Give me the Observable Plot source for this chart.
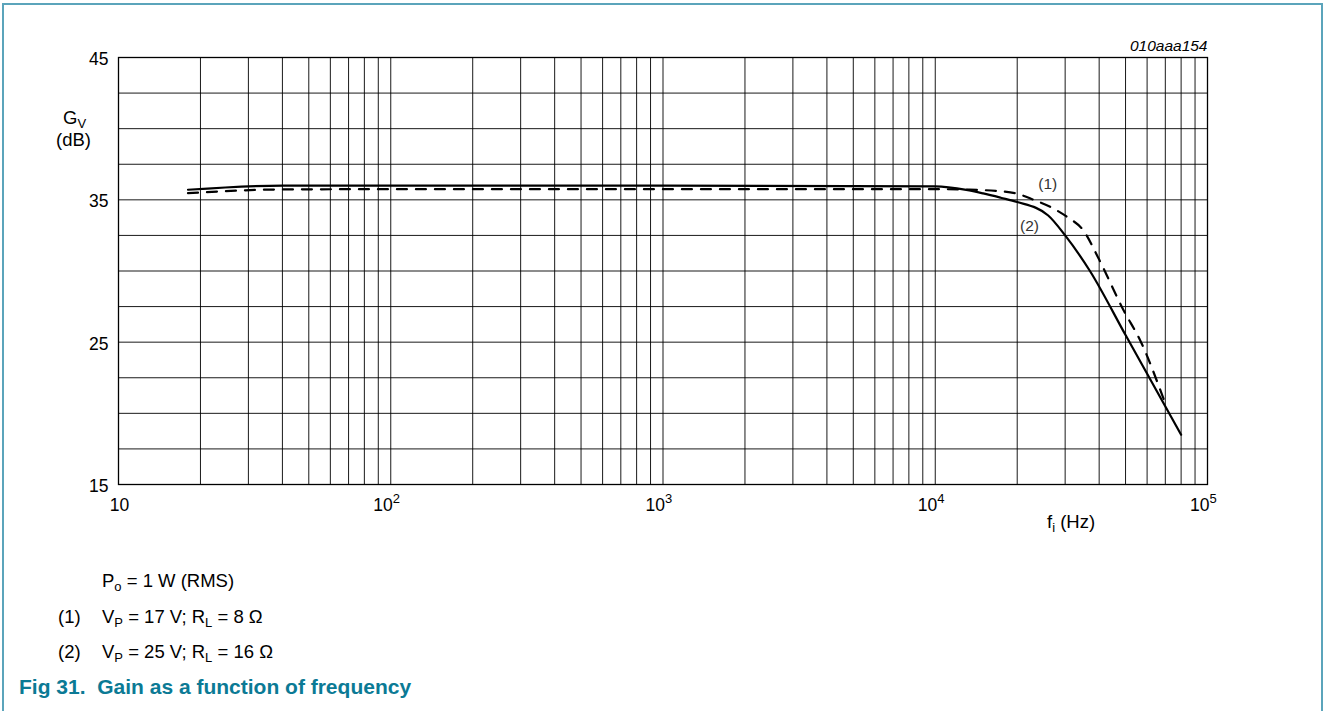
<!DOCTYPE html>
<html>
<head>
<meta charset="utf-8">
<script src="https://cdn.jsdelivr.net/npm/d3@7"></script>
<script src="https://cdn.jsdelivr.net/npm/@observablehq/plot@0.6"></script>
<style>
  html, body { margin: 0; padding: 0; background: #fff; }
  body { font-family: "Liberation Sans", Arial, sans-serif; color: #000; }
  #wrap { position: relative; width: 1324px; height: 711px; overflow: hidden; }
  #border { position: absolute; left: 2px; top: 3px; width: 1321px; height: 760px;
            border: 2px solid #5ba4bb; box-sizing: border-box; }
  #chart { position: absolute; left: 0; top: 0; }
  .lbl { position: absolute; font-size: 18.5px; line-height: 1; white-space: nowrap; }
  .lbl sub { font-size: 13px; vertical-align: -4px; line-height: 0; }
  #title { position: absolute; left: 19px; top: 676px; font-size: 21px; font-weight: bold;
           line-height: 1; color: #0b7a95; white-space: nowrap; }
</style>
</head>
<body>
<div id="wrap">
  <div id="border"></div>
  <div id="chart"></div>
  <div class="lbl" style="left:63px; top:109px;">G<sub>V</sub></div>
  <div class="lbl" style="left:56px; top:131px;">(dB)</div>
  <div class="lbl" style="left:1047px; top:513px;">f<sub>i</sub> (Hz)</div>
  <div class="lbl" style="left:102px; top:572px;">P<sub>o</sub> = 1 W (RMS)</div>
  <div class="lbl" style="left:58px; top:608px;">(1)</div>
  <div class="lbl" style="left:102px; top:608px;">V<sub>P</sub> = 17 V; R<sub>L</sub> = 8 Ω</div>
  <div class="lbl" style="left:58px; top:643px;">(2)</div>
  <div class="lbl" style="left:102px; top:643px;">V<sub>P</sub> = 25 V; R<sub>L</sub> = 16 Ω</div>
  <div id="title">Fig 31.&nbsp;&nbsp;Gain as a function of frequency</div>
</div>
<script>
// Curve (1): VP = 17 V; RL = 8 ohm (dashed)
const freq1 = [18, 40, 100, 1000, 10000, 13000, 17400, 20000, 23000, 26500, 30500, 35000, 40000, 49000, 57000, 69000];
const gain1 = [35.47, 35.73, 35.75, 35.75, 35.75, 35.72, 35.6, 35.43, 35.0, 34.5, 33.8, 32.85, 30.8, 27.3, 25.0, 21.0];
// Curve (2): VP = 25 V; RL = 16 ohm (solid)
const freq2 = [18, 40, 100, 1000, 10000, 13000, 15000, 17400, 20000, 26000, 30000, 37000, 50000, 80000];
const gain2 = [35.71, 36.0, 36.0, 36.0, 35.95, 35.7, 35.45, 35.15, 34.85, 33.9, 32.5, 30.0, 25.5, 18.5];

const yTicks = [15, 25, 35, 45];
const yGrid = [15, 17.5, 20, 22.5, 25, 27.5, 30, 32.5, 35, 37.5, 40, 42.5, 45];
const decades = [10, 100, 1000, 10000, 100000];
const decadeBase = ["10", "10", "10", "10", "10"];
const decadeExp = ["", "2", "3", "4", "5"];
const xGrid = [];
for (const d of [10, 100, 1000, 10000]) for (let k = 1; k <= 9; k++) xGrid.push(d * k);
xGrid.push(100000);

const curveLabels = [
  {f: 25900, g: 36.1, t: "(1)"},
  {f: 22200, g: 33.15, t: "(2)"}
];

const s1 = freq1.map((f, i) => ({f, g: gain1[i]}));
const s2 = freq2.map((f, i) => ({f, g: gain2[i]}));
const dec = decades.map((d, i) => ({d, b: decadeBase[i], e: decadeExp[i]}));

const plot = Plot.plot({
  width: 1324,
  height: 540,
  marginLeft: 118,
  marginRight: 117,
  marginTop: 57,
  marginBottom: 56,
  style: {fontFamily: "Liberation Sans, Arial, sans-serif", background: "transparent"},
  x: {type: "log", domain: [10, 100000], axis: null},
  y: {domain: [15, 45], axis: null},
  marks: [
    Plot.ruleX(xGrid, {stroke: "#000", strokeWidth: 1, strokeOpacity: 0.9}),
    Plot.ruleY(yGrid, {stroke: "#000", strokeWidth: 1, strokeOpacity: 0.9}),
    Plot.frame({stroke: "#000", strokeWidth: 1.3}),
    Plot.line(s1, {x: "f", y: "g", curve: "monotone-x", stroke: "#000", strokeWidth: 2.2, strokeDasharray: "10,9"}),
    Plot.line(s2, {x: "f", y: "g", curve: "monotone-x", stroke: "#000", strokeWidth: 2.2}),
    Plot.text(curveLabels, {x: "f", y: "g", text: "t", fontSize: 15.5, fill: "#333"}),
    Plot.text(yTicks, {x: 10, y: d => d, text: d => String(d), textAnchor: "end", dx: -10, dy: 2, fontSize: 17.5, fill: "#000"}),
    Plot.text(dec.filter(d => d.e === ""), {x: "d", y: 15, text: "b", dx: 1, dy: 21, fontSize: 17.5, fill: "#000"}),
    Plot.text(dec.filter(d => d.e !== ""), {x: "d", y: 15, text: "b", textAnchor: "end", dx: 2, dy: 21, fontSize: 17.5, fill: "#000"}),
    Plot.text(dec.filter(d => d.e !== ""), {x: "d", y: 15, text: "e", textAnchor: "start", dx: 2, dy: 14, fontSize: 13, fill: "#000"}),
    Plot.text(["010aaa154"], {frameAnchor: "top-right", lineAnchor: "middle", dy: -11, fontSize: 15.5, fontStyle: "italic", fill: "#000"})
  ]
});
document.getElementById("chart").appendChild(plot);
</script>
</body>
</html>
